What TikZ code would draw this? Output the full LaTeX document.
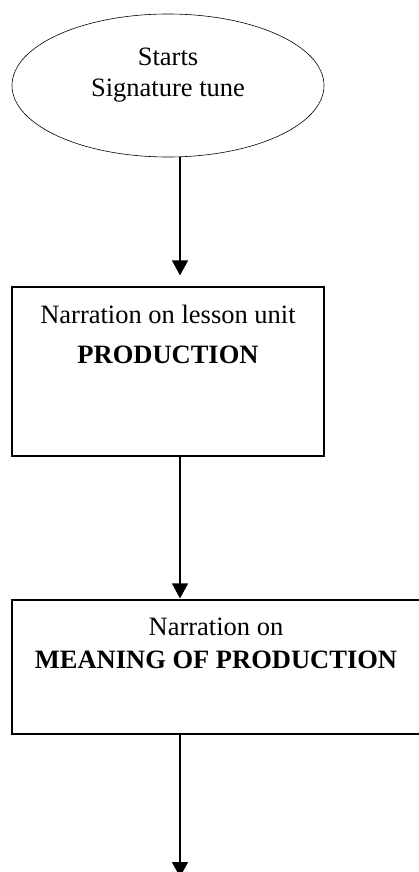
\documentclass[tikz,border=0pt]{standalone}
\usepackage{fontspec}
\setmainfont{Liberation Serif}
\usetikzlibrary{shapes.geometric,arrows.meta}
\begin{document}
\begin{tikzpicture}[x=1pt,y=-1pt,
  ovalbox/.style={draw, ellipse, line width=0.6pt, inner sep=0pt, minimum width=312pt, minimum height=143pt},
  stepbox/.style={draw, rectangle, line width=1.2pt, inner sep=0pt},
  txt/.style={anchor=base, inner sep=0pt, font=\fontsize{26.5}{30}\selectfont},
  btxt/.style={txt, font=\fontsize{26.5}{30}\selectfont\bfseries},
  flow/.style={line width=1.3pt, -{Triangle[length=15pt,width=16pt]}}]
\useasboundingbox (0,0) rectangle (418,872);
\node[ovalbox] (start) at (168,85.5) {};
\node[stepbox, minimum width=312pt, minimum height=169pt] (b1) at (168,371.5) {};
\node[stepbox, minimum width=408pt, minimum height=134pt] (b2) at (216,667) {};
\coordinate (endpt) at (180,877);
\node[txt] (t1) at (168,66) {Starts};
\node[txt] (t2) at (168,97) {Signature tune};
\node[txt] (t3) at (168,323) {Narration on lesson unit};
\node[btxt] (t4) at (168,363) {PRODUCTION};
\node[txt] (t5) at (216,635) {Narration on};
\node[btxt] (t6) at (216,668) {MEANING OF PRODUCTION};
\draw[flow, shorten >=11pt] ([xshift=12pt]start.south) -- ([xshift=12pt]b1.north);
\draw[flow, shorten >=1pt] ([xshift=12pt]b1.south) -- (b2.north -| endpt);
\draw[flow] (b2.south -| endpt) -- (endpt);
\end{tikzpicture}
\end{document}
